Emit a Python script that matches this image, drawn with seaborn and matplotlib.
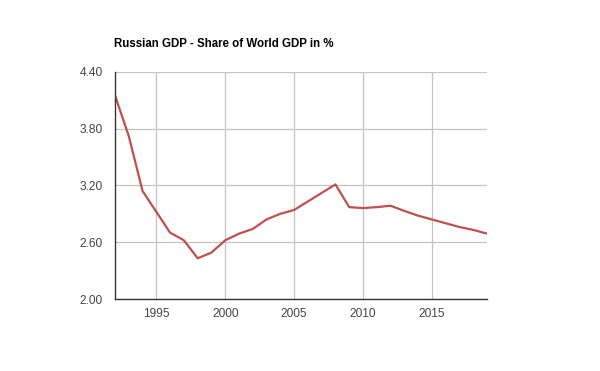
import matplotlib
matplotlib.use("Agg")
import matplotlib.pyplot as plt
import seaborn as sns
import pandas as pd

years = list(range(1992, 2020))
share = [4.15, 3.72, 3.14, 2.92, 2.70, 2.62, 2.43, 2.49, 2.62, 2.69, 2.74,
         2.84, 2.90, 2.94, 3.03, 3.12, 3.21, 2.97, 2.96, 2.97, 2.985,
         2.93, 2.88, 2.84, 2.80, 2.76, 2.73, 2.69]
yticks = [2.00, 2.60, 3.20, 3.80, 4.40]
xticks = [1995, 2000, 2005, 2010, 2015]
title = "Russian GDP - Share of World GDP in %"

df = pd.DataFrame({"year": years, "share": share})

sns.set_style("white")
plt.rcParams["font.family"] = ["Liberation Sans", "DejaVu Sans"]

fig = plt.figure(figsize=(6, 3.71), dpi=100)
ax = fig.add_axes([115/600, 1-299/371, (487-115)/600, (299-71.7)/371])

sns.lineplot(data=df, x="year", y="share", ax=ax, color="#c0504d", linewidth=1.6)

ax.set_xlim(1992, 2019)
ax.set_ylim(2.0, 4.4)
ax.set_yticks(yticks)
ax.set_yticklabels([f"{v:.2f}" for v in yticks])
ax.set_xticks(xticks)
ax.set_xticklabels([str(v) for v in xticks])
ax.grid(True, color="#c4c4c4", linewidth=0.9)
ax.set_axisbelow(True)
ax.set_xlabel("")
ax.set_ylabel("")
for s in ["top", "right"]:
    ax.spines[s].set_visible(False)
for s in ["left", "bottom"]:
    ax.spines[s].set_color("#333333")
    ax.spines[s].set_linewidth(1.0)
ax.tick_params(axis="both", length=0, labelsize=8.6, colors="#444444")
ax.tick_params(axis="y", pad=9)
ax.tick_params(axis="x", pad=6.5)

fig.text(114/600, 1-47/371, title, fontsize=8.3, fontweight="bold",
         color="#000000", ha="left", va="baseline")

fig.savefig("out.png", dpi=100, facecolor="white")
